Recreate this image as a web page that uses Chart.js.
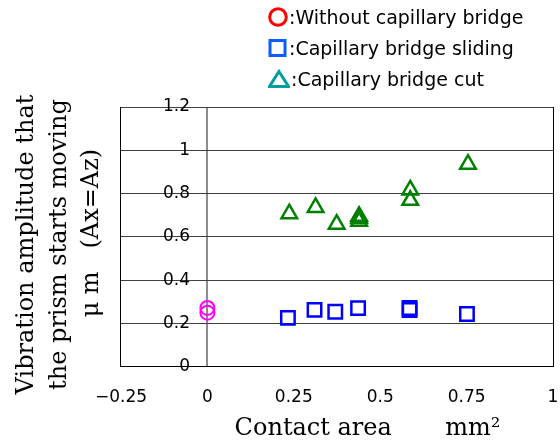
<!DOCTYPE html>
<html>
<head>
<meta charset="utf-8">
<script src="https://cdn.jsdelivr.net/npm/chart.js@4"></script>
<style>
body { margin: 0; background: #fff; }
#wrap { position: relative; width: 560px; height: 444px; }
#legend { position: absolute; left: 268px; top: 1px; font: 19px "DejaVu Sans"; color: #000; }
#legend div { height: 31px; display: flex; align-items: center; white-space: nowrap; }
#legend svg { margin-right: 1px; }
</style>
</head>
<body>
<div id="wrap">
  <canvas id="myChart"></canvas>
  <div id="legend"></div>
</div>
<script>
// tick values
const xTickValues = [-0.25, 0, 0.25, 0.5, 0.75, 1];
const yTickValues = [0, 0.2, 0.4, 0.6, 0.8, 1, 1.2];

// series (contact area mm2 / amplitude um)
const seriesNames = ['Without capillary bridge', 'Capillary bridge sliding', 'Capillary bridge cut'];
const noBridgeArea = [0, 0];
const noBridgeAmp = [0.272, 0.25];
const slidingArea = [0.233, 0.31, 0.37, 0.436, 0.585, 0.585, 0.751];
const slidingAmp = [0.226, 0.263, 0.254, 0.271, 0.272, 0.262, 0.244];
const cutArea = [0.237, 0.313, 0.374, 0.439, 0.439, 0.439, 0.587, 0.587, 0.754];
const cutAmp = [0.707, 0.736, 0.659, 0.695, 0.685, 0.672, 0.817, 0.769, 0.936];

const xTitle = '        Contact area       mm²';
const yTitleLines = ['Vibration amplitude that  ', 'the prism starts moving  ', ' μ m   (Ax=Az)'];

const toPoints = (xs, ys) => xs.map((x, i) => ({x: x, y: ys[i]}));
const fixTicks = vals => scale => { scale.ticks = vals.map(v => ({value: v})); };

// html legend, the markers in it use other colours than the points
const legendMarks = [
  '<svg width="20" height="20"><circle cx="10" cy="10" r="8.3" fill="none" stroke="#ff0000" stroke-width="3"/></svg>',
  '<svg width="20" height="20"><rect x="2" y="2.5" width="15" height="15" fill="none" stroke="#0a5cff" stroke-width="3"/></svg>',
  '<svg width="22" height="20"><polygon points="11,2.5 20.5,17.5 1.5,17.5" fill="none" stroke="#009e9e" stroke-width="3"/></svg>'
];
document.getElementById('legend').innerHTML = seriesNames.map((n, i) =>
  '<div>' + legendMarks[i] + '<span>:' + n + '</span></div>').join('');

Chart.defaults.font.family = 'DejaVu Sans';
Chart.defaults.color = '#000';

var ctx = document.getElementById('myChart').getContext('2d');
new Chart(ctx, {
  type: 'scatter',
  data: {
    datasets: [{
      label: seriesNames[0],
      data: toPoints(noBridgeArea, noBridgeAmp),
      pointStyle: 'circle',
      pointRadius: 7,
      borderWidth: 2,
      borderColor: '#ff00ff',
      backgroundColor: 'rgba(0,0,0,0)'
    }, {
      label: seriesNames[1],
      data: toPoints(slidingArea, slidingAmp),
      pointStyle: 'rect',
      pointRadius: 9.5,
      borderWidth: 2.5,
      borderColor: '#0000ff',
      backgroundColor: 'rgba(0,0,0,0)'
    }, {
      label: seriesNames[2],
      data: toPoints(cutArea, cutAmp),
      pointStyle: 'triangle',
      pointRadius: 9,
      borderWidth: 2.5,
      borderColor: '#008000',
      backgroundColor: 'rgba(0,0,0,0)'
    }]
  },
  options: {
    responsive: true,
    maintainAspectRatio: false,
    animation: false,
    // no extra room for point overflow, the frame must reach x=553
    layout: { autoPadding: false, padding: { top: 107, right: 7, left: 0, bottom: 0 } },
    plugins: { legend: { display: false }, tooltip: { enabled: false } },
    scales: {
      x: {
        type: 'linear',
        min: -0.25,
        max: 1,
        afterBuildTicks: fixTicks(xTickValues),
        border: { color: '#000', width: 1 },
        grid: {
          // invisible tick marks just push the labels down
          drawTicks: true,
          tickLength: 21,
          tickColor: 'rgba(0,0,0,0)',
          // only the y axis line at 0 and the right/left frame
          color: c => {
            if (!c.tick) return 'rgba(0,0,0,0)';
            if (c.tick.value === 0) return '#8c8c8c';
            if (c.tick.value === -0.25 || c.tick.value === 1) return '#000';
            return 'rgba(0,0,0,0)';
          },
          lineWidth: c => (c.tick && c.tick.value === 0) ? 2 : 1
        },
        ticks: {
          padding: 0,
          autoSkip: false,
          maxRotation: 0,
          font: { family: 'DejaVu Sans', size: 17 },
          callback: v => String(v).replace('-', '−')
        },
        title: {
          display: true,
          text: xTitle,
          color: '#000',
          font: { family: 'DejaVu Serif', size: 24, lineHeight: 1.2 },
          padding: { top: 6, bottom: 1 }
        }
      },
      y: {
        min: 0,
        max: 1.2,
        afterBuildTicks: fixTicks(yTickValues),
        border: { color: '#000', width: 1 },
        grid: { drawTicks: false, color: '#404040', lineWidth: 1 },
        ticks: {
          mirror: true,
          crossAlign: 'far',
          padding: 42,
          font: { family: 'DejaVu Sans', size: 17 },
          callback: v => String(v)
        },
        title: {
          display: true,
          text: yTitleLines,
          color: '#000',
          font: { family: 'DejaVu Serif', size: 24, lineHeight: 1.354 },
          // tick padding is counted twice in the axis width
          padding: { top: 11, bottom: -71.5 }
        }
      }
    }
  }
});
</script>
</body>
</html>
